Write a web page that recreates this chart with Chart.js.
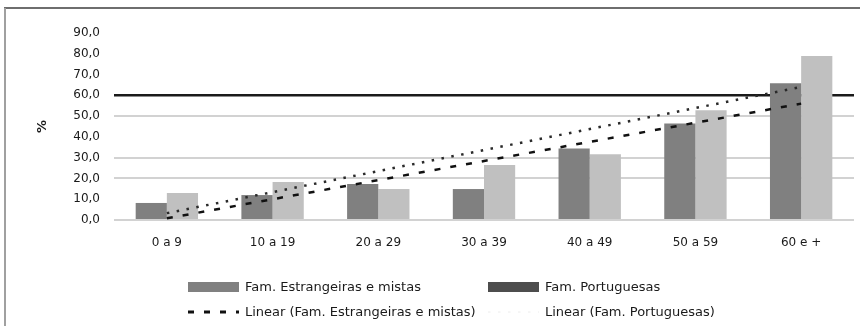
<!DOCTYPE html>
<html><head><meta charset="utf-8">
<script src="https://cdn.jsdelivr.net/npm/chart.js@4/dist/chart.umd.min.js"></script>
<style>html,body{margin:0;padding:0;background:#fff;}#wrap{width:860px;height:326px;position:relative;}</style>
</head><body><div id="wrap"><canvas id="c" width="860" height="326"></canvas></div>
<script>
const categories = ['0 a 9','10 a 19','20 a 29','30 a 39','40 a 49','50 a 59','60 e +'];
const estrangeiras = [8.2, 12.0, 17.3, 14.9, 34.4, 46.5, 65.8];
const portuguesas = [13.0, 18.3, 14.9, 26.5, 31.6, 52.8, 78.9];
const trendEstrangeiras = [0.8, null, null, null, null, null, 56.0];
const trendPortuguesas = [3.3, null, null, null, null, null, 64.0];
const yTickLabels = ['0,0','10,0','20,0','30,0','40,0','50,0','60,0','70,0','80,0','90,0'];
const seriesLabels = ['Fam. Estrangeiras e mistas','Fam. Portuguesas','Linear (Fam. Estrangeiras e mistas)','Linear (Fam. Portuguesas)'];
const yAxisTitle = '%';
const lightGridValues = [0, 20, 30, 50];
const darkGridValues = [60];

const FONT = '"DejaVu Sans", sans-serif';

const framePlugin = {
  id: 'frame',
  beforeDraw(chart) {
    const ctx = chart.ctx;
    ctx.save();
    ctx.fillStyle = '#fff';
    ctx.fillRect(0, 0, chart.width, chart.height);
    ctx.strokeStyle = '#6e6e6e';
    ctx.lineWidth = 2;
    ctx.beginPath();
    ctx.moveTo(4, 8); ctx.lineTo(chart.width, 8);
    ctx.stroke();
    ctx.strokeStyle = '#a0a0a0';
    ctx.beginPath();
    ctx.moveTo(5, 8); ctx.lineTo(5, chart.height);
    ctx.stroke();
    ctx.restore();
  }
};

const legendPlugin = {
  id: 'customLegend',
  afterDraw(chart) {
    const ctx = chart.ctx;
    const ds = chart.data.datasets;
    const items = [
      {ds: 0, kind: 'box', color: '#808080', x: 188, y: 287},
      {ds: 1, kind: 'box', color: '#4d4d4d', x: 488, y: 287},
      {ds: 2, kind: 'line', x: 188, y: 312},
      {ds: 3, kind: 'line', x: 488, y: 312, faint: true}
    ];
    ctx.save();
    ctx.font = '13px ' + FONT;
    ctx.textBaseline = 'middle';
    items.forEach(it => {
      const d = ds[it.ds];
      if (it.kind === 'box') {
        ctx.fillStyle = it.color;
        ctx.fillRect(it.x, it.y - 5, 51, 10);
      } else {
        ctx.strokeStyle = it.faint ? '#ececec' : d.borderColor;
        ctx.lineWidth = it.faint ? 1 : 3;
        ctx.setLineDash(d.borderDash);
        ctx.beginPath();
        ctx.moveTo(it.x, it.y); ctx.lineTo(it.x + 51, it.y);
        ctx.stroke();
        ctx.setLineDash([]);
      }
      ctx.fillStyle = '#1a1a1a';
      ctx.fillText(d.label, it.x + 57, it.y + 1);
    });
    ctx.restore();
  }
};

new Chart(document.getElementById('c'), {
  data: {
    labels: categories,
    datasets: [
      {type: 'bar', label: seriesLabels[0], data: estrangeiras, backgroundColor: '#808080', order: 2,
       categoryPercentage: 0.59, barPercentage: 1.0},
      {type: 'bar', label: seriesLabels[1], data: portuguesas, backgroundColor: '#c0c0c0', order: 2,
       categoryPercentage: 0.59, barPercentage: 1.0},
      {type: 'line', label: seriesLabels[2], data: trendEstrangeiras, borderColor: '#111111', borderWidth: 2.5,
       borderDash: [6, 10], pointRadius: 0, spanGaps: true, fill: false, order: 0},
      {type: 'line', label: seriesLabels[3], data: trendPortuguesas, borderColor: '#2a2a2a', borderWidth: 2.5,
       borderDash: [2.5, 7.5], pointRadius: 0, spanGaps: true, fill: false, order: 1}
    ]
  },
  options: {
    responsive: false,
    devicePixelRatio: 1,
    animation: false,
    layout: {padding: {left: 0, right: 6, top: 33, bottom: 70}},
    plugins: {legend: {display: false}, tooltip: {enabled: false}},
    scales: {
      x: {
        grid: {display: false, drawTicks: false},
        border: {display: false},
        ticks: {font: {family: FONT, size: 12}, color: '#1a1a1a', padding: 16, maxRotation: 0, autoSkip: false},
        afterFit(s) { s.height = 36; }
      },
      y: {
        min: 0, max: 90,
        ticks: {stepSize: 10, font: {family: FONT, size: 12}, color: '#1a1a1a', padding: 14,
                callback: (v, i) => yTickLabels[i]},
        grid: {
          drawTicks: false,
          color: c => darkGridValues.includes(c.tick.value) ? '#1a1a1a' :
                      (lightGridValues.includes(c.tick.value) ? '#d2d2d2' : 'rgba(0,0,0,0)'),
          lineWidth: c => darkGridValues.includes(c.tick.value) ? 2.5 : 2
        },
        border: {display: false},
        title: {display: true, text: yAxisTitle, font: {family: FONT, size: 13, weight: 'bold'}, color: '#1a1a1a',
                padding: {top: 35, bottom: 0}},
        afterFit(s) { s.width = 114; }
      }
    }
  },
  plugins: [framePlugin, legendPlugin]
});
</script>
</body></html>
